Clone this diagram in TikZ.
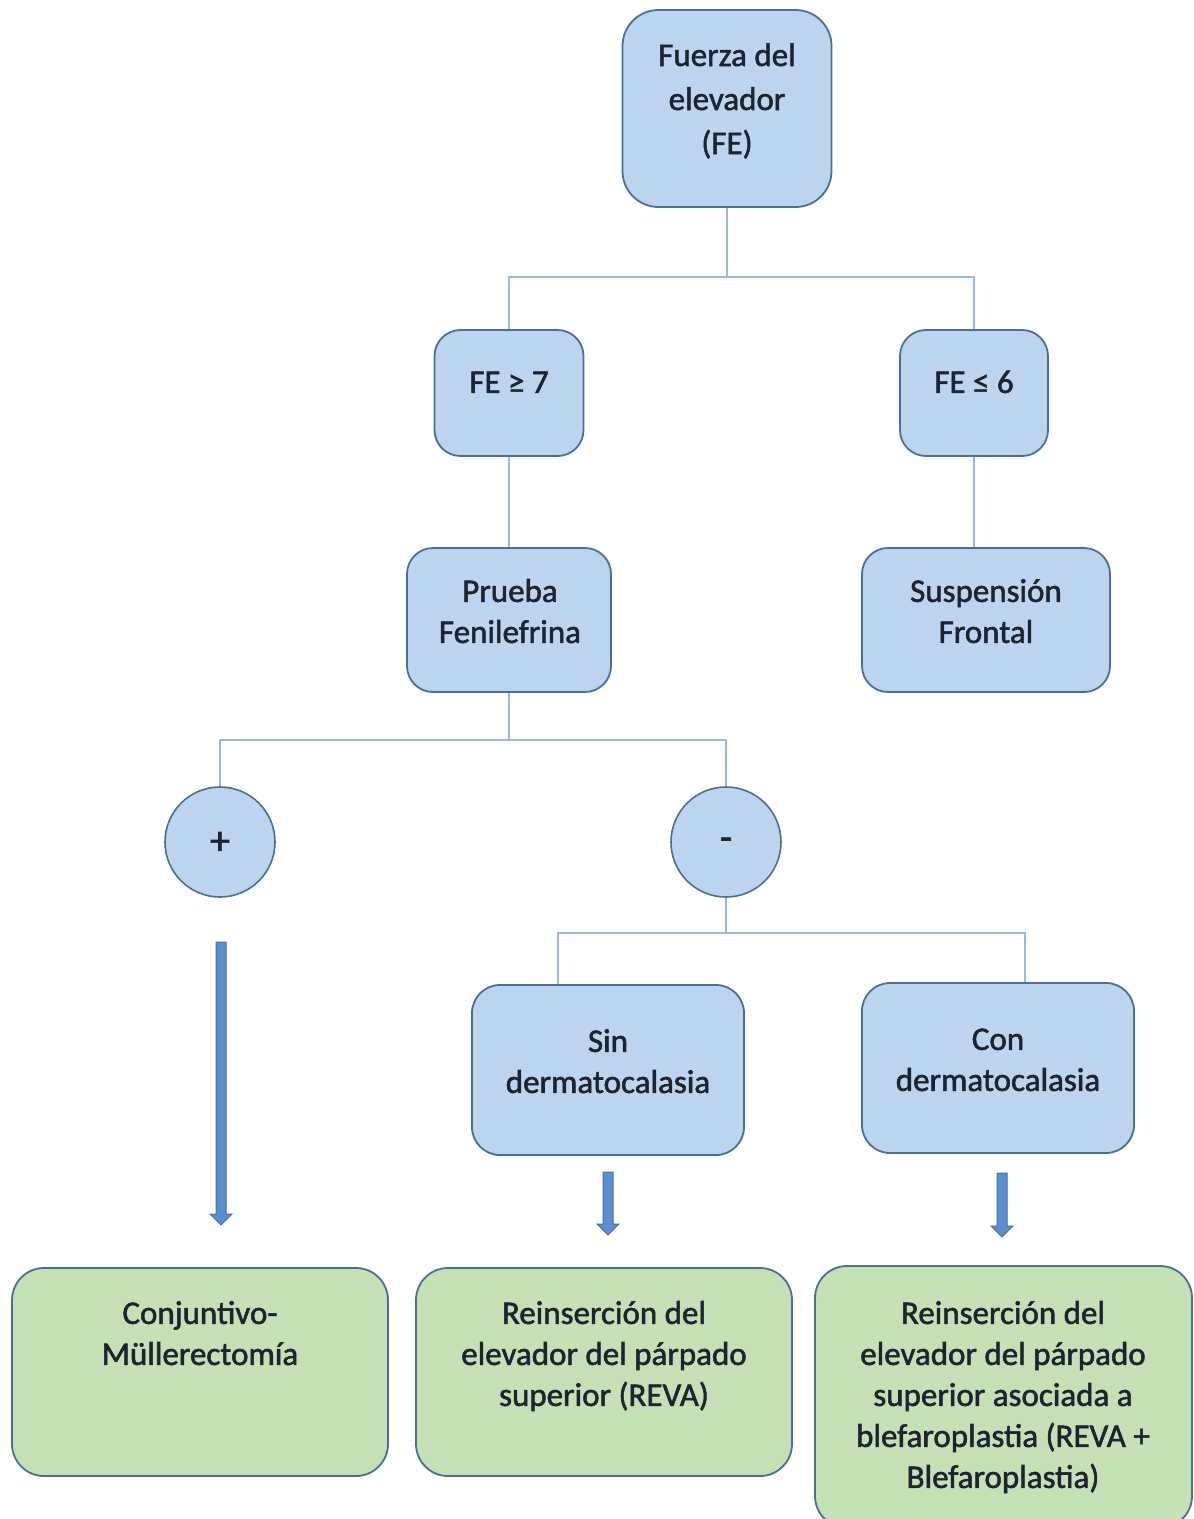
\documentclass[tikz,border=0pt]{standalone}
\usepackage{fontspec}
\setmainfont{Carlito}
\newfontfamily\semibf{Carlito}[FakeBold=1.6]
\definecolor{bfill}{HTML}{BDD4EE}
\definecolor{gfill}{HTML}{C5E0B4}
\definecolor{bord}{HTML}{4A6F96}
\definecolor{conncol}{HTML}{9AB8DC}
\definecolor{afill}{HTML}{5B8FCF}
\definecolor{tcol}{HTML}{1C2430}
\tikzset{
  box/.style={draw=bord, line width=1.8pt, rounded corners=26pt, inner sep=0pt},
  bluebox/.style={box, fill=bfill},
  greenbox/.style={box, fill=gfill, rounded corners=32pt},
  circ/.style={circle, draw=bord, line width=1.6pt, fill=bfill, minimum size=110pt, inner sep=0pt},
  txt/.style={text=tcol, font=\semibf\fontsize{33}{41}\selectfont, align=center, inner sep=0pt, anchor=north},
  sign/.style={text=tcol, font=\semibf\fontsize{40}{40}\selectfont, inner sep=0pt, anchor=center},
  conn/.style={draw=conncol, line width=1.6pt},
  fat/.style={fill=afill, draw=bord, line width=1pt, line join=miter}
}
\newcommand\fatarrow[2]{\filldraw[fat] ([shift={(-5,0)}]#1) -- ([shift={(-5,-11)}]#2) -- ([shift={(-11,-11)}]#2) -- (#2) -- ([shift={(11,-11)}]#2) -- ([shift={(5,-11)}]#2) -- ([shift={(5,0)}]#1) -- cycle;}
\begin{document}
\begin{tikzpicture}[x=1pt,y=-1pt]
\useasboundingbox[fill=white] (0,0) rectangle (1194,1519);
% boxes
\node[bluebox, rounded corners=36pt, minimum width=209pt, minimum height=197pt] (top) at (727,108.5) {};
\node[bluebox, minimum width=149pt, minimum height=126pt] (ge7) at (509,393) {};
\node[bluebox, minimum width=148pt, minimum height=126pt] (le6) at (974,393) {};
\node[bluebox, minimum width=204pt, minimum height=144pt] (prueba) at (509,620) {};
\node[bluebox, minimum width=248pt, minimum height=144pt] (susp) at (986,620) {};
\node[circ] (plus) at (220,842) {};
\node[circ] (minus) at (726,842) {};
\node[bluebox, rounded corners=28pt, minimum width=272pt, minimum height=170pt] (sin) at (608,1070) {};
\node[bluebox, rounded corners=28pt, minimum width=272pt, minimum height=170pt] (con) at (998,1068) {};
\node[greenbox, minimum width=376pt, minimum height=208pt] (conj) at (200,1372) {};
\node[greenbox, minimum width=376pt, minimum height=208pt] (reva) at (604,1372) {};
\node[greenbox, minimum width=377pt, minimum height=262pt] (blef) at (1003.5,1397) {};
% texts
\node[txt, font=\semibf\fontsize{33}{44}\selectfont] (ttop) at (727,35) {\strut Fuerza del\\elevador\\(FE)};
\node[txt] (tge7) at (509,364) {\strut FE ≥ 7};
\node[txt] (tle6) at (974,364) {\strut FE ≤ 6};
\node[txt] (tprueba) at (510,573) {\strut Prueba\\Fenilefrina};
\node[txt] (tsusp) at (986,573) {\strut Suspensión\\Frontal};
\node[sign] (tplus) at (220,843) {+};
\node[sign] (tminus) at (726,844) {-};
\node[txt] (tsin) at (608,1023) {\strut Sin\\dermatocalasia};
\node[txt] (tcon) at (998,1021) {\strut Con\\dermatocalasia};
\node[txt] (tconj) at (200,1295) {\strut Conjuntivo-\\Müllerectomía};
\node[txt] (treva) at (604,1295) {\strut Reinserción del\\elevador del párpado\\superior (REVA)};
\node[txt] (tblef) at (1003,1295) {\strut Reinserción del\\elevador del párpado\\superior asociada a\\blefaroplastia (REVA +\\Blefaroplastia)};
% connectors
\draw[conn] (top.south) -- (727,277) coordinate (j1);
\draw[conn] (ge7.north) |- (j1) -| (le6.north);
\draw[conn] (ge7.south) -- (prueba.north);
\draw[conn] (le6.south) -- (le6.south |- susp.north);
\draw[conn] (prueba.south) -- (509,740) coordinate (j2);
\draw[conn] (plus.north) |- (j2) -| (minus.north);
\draw[conn] (minus.south) -- (726,933) coordinate (j3);
\coordinate (sinin) at ([xshift=-50pt]sin.north);
\coordinate (conin) at ([xshift=27pt]con.north);
\draw[conn] (sinin) |- (j3) -| (conin);
% fat arrows
\coordinate (a1s) at (221,942);
\coordinate (a1e) at (221,1225);
\coordinate (a2s) at (608,1172);
\coordinate (a2e) at (608,1235);
\coordinate (a3s) at (1002,1173);
\coordinate (a3e) at (1002,1237);
\fatarrow{a1s}{a1e}
\fatarrow{a2s}{a2e}
\fatarrow{a3s}{a3e}
\end{tikzpicture}
\end{document}
